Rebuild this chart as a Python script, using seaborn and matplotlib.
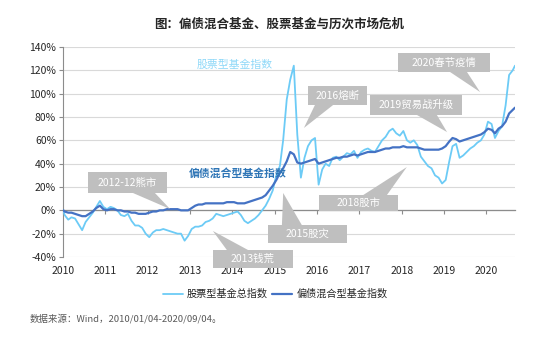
import matplotlib
matplotlib.use('Agg')
import matplotlib.pyplot as plt
import matplotlib.dates as mdates
from matplotlib.patches import Polygon
from matplotlib.lines import Line2D
import seaborn as sns
import pandas as pd

sns.set_style('white')
plt.rcParams['font.family'] = ['Noto Sans CJK SC', 'DejaVu Sans']
plt.rcParams['axes.unicode_minus'] = False

# ---------------- data ----------------
dates = (['2010-01-04']
         + [d.strftime('%Y-%m-%d') for d in pd.date_range('2010-01-01', '2020-08-01', freq='MS') + pd.Timedelta(days=14)]
         + ['2020-09-04'])

stock_index = [0,
    -4, -8, -6, -7, -12, -17, -10, -6, -2, 3, 8, 3,
    1, 3, 2, 0, -4, -5, -3, -9, -13, -13, -15, -20,
    -23, -19, -17, -17, -16, -17, -18, -19, -20, -20, -26, -22,
    -16, -14, -14, -13, -10, -9, -7, -3, -4, -5, -4, -3,
    -2, -1, -4, -9, -11, -9, -7, -4, 0, 4, 10, 17,
    30, 38, 60, 95, 112, 124, 65, 28, 45, 55, 60, 62,
    22, 35, 40, 38, 45, 46, 43, 46, 49, 48, 51, 45,
    50, 52, 53, 51, 50, 55, 60, 63, 68, 70, 66, 64,
    68, 60, 58, 60, 56, 46, 42, 38, 36, 30, 28, 23,
    26, 42, 55, 57, 45, 47, 50, 53, 55, 58, 60, 65,
    76, 74, 62, 68, 72, 90, 116, 120,
    124]

bond_index = [0,
    -1, -2, -2, -3, -4, -5, -5, -3, -1, 2, 4, 1,
    0, 1, 1, 0, 0, -1, -1, -2, -2, -3, -3, -3,
    -2, -1, -1, 0, 0, 1, 1, 1, 1, 0, 0, 0,
    2, 4, 5, 5, 6, 6, 6, 6, 6, 6, 7, 7,
    7, 6, 6, 6, 7, 8, 9, 10, 11, 13, 17, 21,
    26, 32, 36, 42, 50, 48, 41, 40, 41, 42, 43, 44,
    40, 41, 42, 43, 44, 45, 45, 46, 46, 47, 48, 47,
    48, 49, 50, 50, 50, 51, 52, 53, 53, 54, 54, 54,
    55, 54, 54, 54, 54, 53, 52, 52, 52, 52, 52, 53,
    55, 59, 62, 61, 59, 60, 61, 62, 63, 64, 65, 67,
    70, 69, 66, 70, 72, 76, 83, 86,
    88]

series_names = ['股票型基金总指数', '偏债混合型基金指数']
year_ticks = list(range(2010, 2021))
y_ticks = list(range(-40, 141, 20))

# callouts: text, box (x0, x1, y0, y1), base (x0, x1, y), tip (x, y)
callouts = [
    ('2012-12熊市', (2010.59, 2012.46, 14.9, 32.5), (2011.65, 2012.17, 14.9), (2012.53, 1.1)),
    ('2013钱荒', (2013.54, 2015.43, -49.4, -34.0), (2013.87, 2014.37, -34.0), (2013.54, -17.7)),
    ('2015股灾', (2014.84, 2016.71, -28.0, -12.6), (2015.17, 2015.64, -12.6), (2015.20, 14.9)),
    ('2016熔断', (2015.79, 2017.18, 90.3, 106.6), (2015.95, 2016.38, 90.3), (2015.69, 70.6)),
    ('2019贸易战升级', (2017.25, 2019.42, 81.7, 98.9), (2018.36, 2018.83, 81.7), (2019.07, 67.1)),
    ('2020春节疫情', (2017.91, 2020.08, 118.6, 134.9), (2019.14, 2019.54, 118.6), (2019.85, 101.4)),
    ('2018股市', (2016.05, 2017.91, -0.6, 13.1), (2017.09, 2017.65, 13.1), (2018.12, 37.1)),
]

# ---------------- figure ----------------
df = pd.DataFrame({
    'date': pd.to_datetime(dates * 2),
    'value': stock_index + bond_index,
    'series': [series_names[0]] * len(dates) + [series_names[1]] * len(dates),
})

STOCK_C = '#6CCBF6'
BOND_C = '#4472C4'

fig = plt.figure(figsize=(5.53, 3.39), dpi=100)
ax = fig.add_axes([63 / 553, 1 - 257 / 339, (515 - 63) / 553, 210 / 339])

sns.lineplot(data=df[df.series == series_names[0]], x='date', y='value',
             color=STOCK_C, linewidth=1.3, ax=ax, zorder=3, legend=False)
sns.lineplot(data=df[df.series == series_names[1]], x='date', y='value',
             color=BOND_C, linewidth=1.6, ax=ax, zorder=4, legend=False)

ax.set_xlim(pd.Timestamp('2010-01-01'), pd.Timestamp('2020-09-04'))
ax.set_ylim(-40, 140)
ax.set_xlabel('')
ax.set_ylabel('')

ax.set_yticks(y_ticks)
ax.set_yticklabels([f'{v}%' for v in y_ticks])
ax.set_xticks([pd.Timestamp(f'{y}-01-01') for y in year_ticks])
ax.set_xticklabels([str(y) for y in year_ticks])

ax.yaxis.grid(True, color='#D9D9D9', linewidth=0.8)
ax.xaxis.grid(False)
for s in ['top', 'right']:
    ax.spines[s].set_visible(False)
ax.spines['left'].set_color('#8C8C8C')
ax.spines['left'].set_linewidth(0.8)
ax.spines['bottom'].set_position(('data', 0))
ax.spines['bottom'].set_color('#8C8C8C')
ax.spines['bottom'].set_linewidth(0.9)
ax.spines['bottom'].set_zorder(2.5)

ax.tick_params(axis='y', direction='out', length=3, width=0.8, color='#8C8C8C',
               labelsize=7.5, labelcolor='#262626', pad=2, left=True)
ax.tick_params(axis='x', direction='out', length=3, width=0.8, color='#8C8C8C',
               labelsize=7.5, labelcolor='#262626', pad=37, bottom=True)


def yr(v):
    return mdates.date2num(pd.Timestamp('2010-01-01') + pd.Timedelta(days=(v - 2010) * 365.25))


BOX_C = '#BFBFBF'
for text, (bx0, bx1, by0, by1), (tx0, tx1, ty), (px, py) in callouts:
    rect = Polygon([(yr(bx0), by0), (yr(bx1), by0), (yr(bx1), by1), (yr(bx0), by1)],
                   closed=True, facecolor=BOX_C, edgecolor='none', zorder=5, clip_on=False)
    tri = Polygon([(yr(tx0), ty), (yr(tx1), ty), (yr(px), py)],
                  closed=True, facecolor=BOX_C, edgecolor='none', zorder=5, clip_on=False)
    ax.add_patch(rect)
    ax.add_patch(tri)
    ax.text(yr((bx0 + bx1) / 2), (by0 + by1) / 2, text, ha='center', va='center',
            color='white', fontsize=7.5, zorder=6, clip_on=False)

ax.text(yr(2014.06), 124.6, '股票型基金指数', ha='center', va='center',
        color='#8ED8F8', fontsize=7.8, zorder=6)
ax.text(yr(2014.13), 32.0, '偏债混合型基金指数', ha='center', va='center',
        color='#2E75B6', fontsize=7.8, fontweight='bold', zorder=6)

fig.text(279 / 553, 1 - 24 / 339, '图：偏债混合基金、股票基金与历次市场危机',
         ha='center', va='center', fontsize=9, fontweight='bold', color='#262626')

handles = [Line2D([0], [0], color=STOCK_C, lw=1.3), Line2D([0], [0], color=BOND_C, lw=1.6)]
fig.legend(handles, series_names, loc='center', bbox_to_anchor=(275 / 553, 1 - 294 / 339),
           ncol=2, frameon=False, fontsize=7.3, handlelength=2.0, handletextpad=0.4,
           columnspacing=0.4, labelcolor='#262626')

fig.text(30 / 553, 1 - 319 / 339, '数据来源：Wind，2010/01/04-2020/09/04。',
         ha='left', va='center', fontsize=6.8, color='#595959')

fig.savefig('out.png', dpi=100)
